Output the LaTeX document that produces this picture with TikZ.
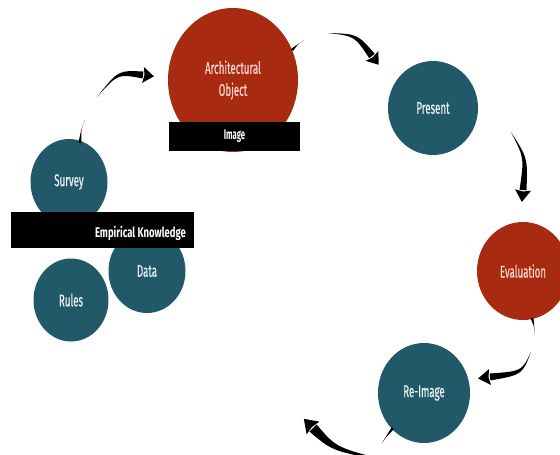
\documentclass[tikz,border=0pt]{standalone}
\usepackage{fontspec}
\setmainfont{Fira Sans}
\newfontfamily\labf[FakeStretch=0.57,FakeBold=0.6]{Fira Sans}
\newfontfamily\barf[FakeStretch=0.55]{Fira Sans}
\newfontfamily\barwf[FakeStretch=0.68]{Fira Sans}
\usetikzlibrary{shapes.geometric,calc}
\definecolor{rust}{RGB}{168,42,16}
\definecolor{petrol}{RGB}{33,89,104}
\definecolor{pinktext}{RGB}{245,215,205}
\definecolor{paletext}{RGB}{232,240,242}
\tikzset{
  blob/.style={ellipse, inner sep=0pt, align=center, font=\labf\fontsize{17}{22}\selectfont},
  redblob/.style={blob, fill=rust, text=pinktext},
  tealblob/.style={blob, fill=petrol, text=paletext},
  bar/.style={rectangle, fill=black, inner sep=0pt},
  bartext/.style={inner sep=0pt, text=white, font=\barf\bfseries\fontsize{14}{16}\selectfont},
  barwtext/.style={inner sep=0pt, text=white, font=\barwf\bfseries\fontsize{14}{16}\selectfont},
}
\newcommand\tapa[6]{%
  \coordinate (tpL) at ($(#3)!#4!90:(#2)$);
  \coordinate (tpR) at ($(#3)!#4!-90:(#2)$);
  \coordinate (tcL) at ($(#2)+0.5*(tpL)-0.5*(#3)$);
  \coordinate (tcR) at ($(#2)+0.5*(tpR)-0.5*(#3)$);
  \fill[black] (#1) .. controls (tcL) .. (tpL) -- (tpR) .. controls (tcR) .. (#1) -- cycle;
  \fill[black] ($(#3)!#5!90:(#2)$) -- ($(#3)!-#6!(#2)$) -- ($(#3)!#5!-90:(#2)$) -- ($(#3)!-1.5pt!(#2)$) -- cycle;
}
\newcommand\tstub[4]{%
  \coordinate (tpL) at ($(#3)!#4!90:(#2)$);
  \coordinate (tpR) at ($(#3)!#4!-90:(#2)$);
  \fill[black] (#1) .. controls (#2) .. (tpL) -- (tpR) .. controls (#2) .. (#1) -- cycle;
}
\begin{document}
\begin{tikzpicture}[x=1pt,y=-1pt]
\useasboundingbox (0,0) rectangle (560,455);
\clip (0,0) rectangle (560,455);

% circles
\node[redblob, minimum width=130pt, minimum height=144pt] (arch) at (233,80) {Architectural\\Object};
\node[bar, minimum width=131pt, minimum height=29pt] (img) at (234.5,136) {};
\node[bartext] (imgt) at (234.5,136) {Image};

\node[tealblob, minimum width=90pt, minimum height=94pt] (present) at (433,108) {Present};
\node[redblob, minimum width=92pt, minimum height=98pt] (eval) at (523,271) {Evaluation};
\node[tealblob, minimum width=92pt, minimum height=100pt] (reimg) at (424,393) {Re-Image};

\node[tealblob, minimum width=77pt, minimum height=86pt] (survey) at (69,182) {Survey};
\node[tealblob, minimum width=77pt, minimum height=84pt] (data) at (147,271) {Data};
\node[tealblob, minimum width=75pt, minimum height=83pt] (rules) at (71,300) {Rules};
\node[bar, minimum width=183pt, minimum height=36pt] (emp) at (102.5,230) {};
\node[barwtext, anchor=east] (empt) at (186,233) {Empirical Knowledge};

% arrows
\coordinate (a1t) at (97,97);   \coordinate (a1c) at (118,72);  \coordinate (a1e) at (143,75);
\tapa{a1t}{a1c}{a1e}{3.5pt}{8pt}{11pt}
\coordinate (s1t) at (85,120);  \coordinate (s1c) at (81,130);  \coordinate (s1e) at (80,143);
\tstub{s1t}{s1c}{s1e}{1.5pt}
\coordinate (s2t) at (304,40);  \coordinate (s2c) at (298,44);  \coordinate (s2e) at (292,50);
\tstub{s2t}{s2c}{s2e}{1.5pt}
\coordinate (a2t) at (328,33);  \coordinate (a2c) at (356,35);  \coordinate (a2e) at (372,56);
\tapa{a2t}{a2c}{a2e}{3.5pt}{8pt}{11pt}
\coordinate (a3t) at (511,132); \coordinate (a3c) at (526,158); \coordinate (a3e) at (523,190);
\tapa{a3t}{a3c}{a3e}{3.5pt}{8pt}{12pt}
\coordinate (s3t) at (535,335); \coordinate (s3c) at (534,326); \coordinate (s3e) at (532,318);
\tstub{s3t}{s3c}{s3e}{1.5pt}
\coordinate (a4t) at (531,352); \coordinate (a4c) at (522,373); \coordinate (a4e) at (490,377);
\tapa{a4t}{a4c}{a4e}{3.5pt}{8pt}{12pt}
\coordinate (s4t) at (382,443); \coordinate (s4c) at (387,436); \coordinate (s4e) at (393,428);
\tstub{s4t}{s4c}{s4e}{1.5pt}
\coordinate (a5t) at (395,462); \coordinate (a5c) at (335,450); \coordinate (a5e) at (313,428);
\tapa{a5t}{a5c}{a5e}{5pt}{9pt}{13pt}
\end{tikzpicture}
\end{document}
